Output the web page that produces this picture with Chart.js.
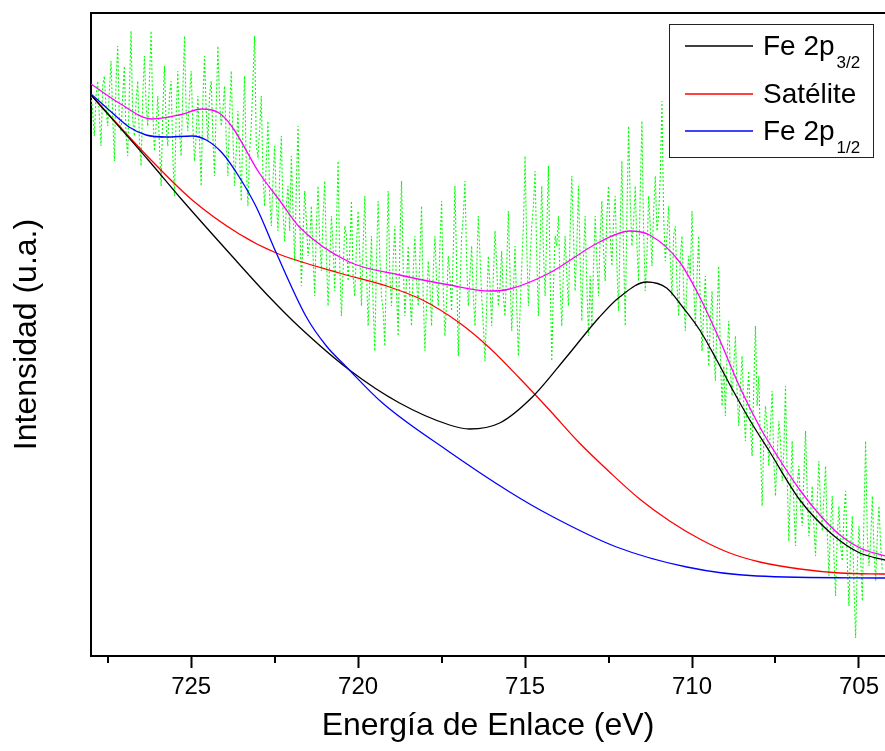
<!DOCTYPE html>
<html>
<head>
<meta charset="utf-8">
<script src="https://cdn.jsdelivr.net/npm/chart.js@4.4.1/dist/chart.umd.min.js"></script>
<style>
  html, body { margin: 0; padding: 0; background: #fff; }
  #wrap { width: 885px; height: 751px; }
</style>
</head>
<body>
<div id="wrap"><canvas id="xps" width="885" height="751"></canvas></div>
<script>
// Fe 2p region: raw counts plus the fitted components (binding energy in eV, intensity in a.u.)
const rawStart = 728.0, rawStep = 0.05;
const rawI = [
  560, 545, 520, 560, 575, 540, 510, 570, 580, 548, 530, 565, 595, 540, 495, 575, 610, 535, 525, 560,
  590, 520, 500, 565, 625, 535, 520, 555, 575, 515, 490, 560, 600, 550, 530, 575, 625, 545, 505, 530,
  560, 510, 470, 545, 590, 530, 510, 560, 575, 500, 460, 540, 585, 525, 500, 565, 620, 545, 525, 560,
  585, 530, 495, 520, 560, 515, 470, 555, 600, 545, 515, 560, 575, 520, 480, 550, 610, 555, 530, 545,
  570, 515, 480, 540, 585, 520, 470, 505, 545, 500, 455, 530, 580, 490, 450, 505, 530, 575, 620, 510,
  500, 525, 560, 480, 450, 495, 535, 460, 430, 475, 510, 455, 425, 480, 520, 445, 415, 450, 470, 425,
  500, 445, 395, 470, 530, 440, 370, 420, 465, 435, 400, 415, 450, 400, 360, 430, 470, 415, 385, 440,
  475, 400, 350, 395, 440, 410, 365, 430, 495, 390, 340, 385, 430, 420, 375, 405, 455, 380, 360, 410,
  445, 400, 350, 410, 460, 385, 330, 375, 420, 350, 305, 395, 455, 400, 360, 345, 310, 395, 465, 380,
  350, 395, 430, 365, 320, 410, 475, 390, 340, 375, 410, 360, 330, 385, 420, 375, 350, 400, 450, 360,
  305, 350, 395, 370, 330, 385, 420, 375, 350, 410, 455, 365, 320, 355, 400, 380, 345, 405, 470, 390,
  300, 365, 420, 440, 475, 395, 350, 380, 410, 360, 330, 385, 440, 400, 360, 330, 295, 350, 400, 370,
  330, 380, 425, 390, 350, 370, 405, 360, 340, 390, 445, 380, 325, 365, 410, 350, 300, 345, 390, 430,
  500, 410, 350, 395, 430, 450, 485, 400, 340, 410, 470, 405, 360, 425, 490, 380, 295, 370, 420, 410,
  440, 370, 330, 385, 420, 380, 350, 425, 480, 420, 365, 410, 470, 395, 335, 400, 440, 370, 320, 380,
  330, 390, 440, 395, 360, 420, 455, 405, 375, 440, 470, 420, 390, 435, 460, 390, 345, 430, 495, 405,
  330, 440, 530, 455, 410, 435, 470, 410, 375, 465, 535, 425, 365, 400, 460, 430, 390, 445, 480, 425,
  440, 480, 555, 440, 395, 420, 450, 395, 360, 420, 430, 370, 340, 400, 420, 365, 325, 375, 400, 380,
  445, 370, 330, 380, 420, 350, 305, 345, 380, 330, 290, 335, 365, 305, 275, 340, 390, 300, 250, 290,
  240, 300, 335, 285, 260, 290, 320, 265, 230, 270, 300, 250, 215, 260, 285, 230, 200, 270, 330, 250,
  280, 210, 150, 215, 250, 230, 190, 230, 265, 195, 160, 200, 235, 215, 175, 205, 270, 180, 115, 170,
  215, 150, 110, 170, 190, 150, 130, 180, 225, 165, 120, 140, 170, 130, 100, 155, 195, 150, 125, 160,
  190, 125, 80, 130, 160, 100, 60, 120, 150, 110, 95, 140, 165, 95, 50, 110, 140, 70, 18, 90,
  130, 100, 55, 140, 215, 120, 90, 115, 160, 105, 75, 120, 150, 110, 85
];
const rawE = rawI.map((_, i) => +(rawStart - rawStep * i).toFixed(2));

const fe32E = [728.00, 726.26, 725.27, 723.86, 722.66, 721.76, 720.26, 718.76, 717.26, 716.66, 715.76, 714.78, 713.76, 712.77, 712.17, 711.36, 710.76, 710.28, 709.77, 709.26, 708.78, 708.27, 707.67, 706.77, 705.78, 704.97, 704.22];
const fe32I = [561, 495, 456, 403, 359, 329, 286, 253, 231, 227, 233, 259, 299, 339, 359, 374, 368, 349, 326, 296, 266, 236, 204, 156, 121, 103, 96];

const satE = [728.00, 726.26, 724.97, 723.56, 722.45, 720.56, 719.06, 718.07, 716.96, 716.06, 715.17, 714.27, 713.37, 712.47, 711.57, 710.67, 709.77, 708.87, 707.97, 706.77, 705.57, 704.22];
const satI = [561, 498, 456, 422, 403, 383, 369, 356, 333, 308, 278, 246, 213, 184, 157, 135, 117, 103, 94, 87, 83, 82];

const fe12E = [728.00, 727.46, 726.86, 726.35, 725.75, 724.97, 724.55, 724.07, 723.56, 723.05, 722.45, 721.55, 720.95, 720.35, 719.27, 717.35, 715.46, 714.27, 712.26, 710.16, 708.06, 704.22];
const fe12I = [562, 546, 529, 521, 519, 520, 516, 503, 479, 449, 403, 339, 310, 289, 253, 206, 164, 141, 109, 89, 80, 78];

const envE = [728.00, 727.16, 726.17, 725.36, 724.67, 724.16, 723.77, 722.96, 722.36, 721.76, 720.26, 718.76, 717.26, 716.06, 715.46, 714.27, 712.77, 711.87, 711.27, 710.37, 709.77, 709.17, 708.57, 707.97, 707.37, 706.77, 706.17, 705.57, 704.97, 704.22];
const envI = [572, 553, 537, 541, 547, 543, 529, 483, 456, 429, 394, 381, 371, 365, 367, 383, 414, 425, 421, 394, 359, 316, 269, 229, 196, 166, 141, 121, 108, 100];

const legendMain = ['Fe 2p', 'Satélite', 'Fe 2p'];
const legendSub = ['3/2', '', '1/2'];
const minorTicks = [727.5, 722.5, 717.5, 712.5, 707.5];

const pts = (xs, ys) => xs.map((x, i) => ({x, y: ys[i]}));
const FONT = '"Liberation Sans", Arial, sans-serif';

function curve(label, xs, ys, color, order) {
  return {
    label, data: pts(xs, ys), borderColor: color, borderWidth: 1.3,
    pointRadius: 0, cubicInterpolationMode: 'monotone', fill: false, order
  };
}

// top frame line, minor x ticks and the legend with subscripts
const extras = {
  id: 'extras',
  afterDraw(chart) {
    const {ctx, chartArea: a, scales: {x}} = chart;
    ctx.save();
    ctx.strokeStyle = '#000';
    ctx.lineWidth = 2;
    ctx.beginPath();
    ctx.moveTo(a.left - 1, a.top);
    ctx.lineTo(a.right, a.top);
    minorTicks.forEach(v => {
      const px = Math.round(x.getPixelForValue(v));
      ctx.moveTo(px, a.bottom);
      ctx.lineTo(px, a.bottom + 7);
    });
    ctx.stroke();

    const box = {left: a.right - 216, top: a.top + 11, width: 204, height: 133};
    ctx.lineWidth = 1;
    ctx.strokeStyle = '#222';
    ctx.strokeRect(box.left + 0.5, box.top + 0.5, box.width, box.height);
    const baselines = [31, 79, 116];
    chart.data.datasets.slice(0, 3).forEach((ds, i) => {
      const by = box.top + baselines[i];
      ctx.strokeStyle = ds.borderColor;
      ctx.lineWidth = 1.3;
      ctx.beginPath();
      ctx.moveTo(box.left + 16, by - 9);
      ctx.lineTo(box.left + 84, by - 9);
      ctx.stroke();
      ctx.fillStyle = '#000';
      ctx.textBaseline = 'alphabetic';
      ctx.font = '28px ' + FONT;
      ctx.fillText(legendMain[i], box.left + 94, by);
      if (legendSub[i]) {
        const w = ctx.measureText(legendMain[i]).width;
        ctx.font = '17px ' + FONT;
        ctx.fillText(legendSub[i], box.left + 96 + w, by + 13);
      }
    });
    ctx.restore();
  }
};

new Chart(document.getElementById('xps'), {
  type: 'line',
  data: {
    datasets: [
      curve('Fe 2p3/2', fe32E, fe32I, '#000000', 2),
      curve('Satélite', satE, satI, '#ff0000', 3),
      curve('Fe 2p1/2', fe12E, fe12I, '#0000ff', 1),
      curve('Envolvente', envE, envI, '#ff00ff', 0),
      {
        label: 'Datos', data: pts(rawE, rawI), borderColor: '#00ff00', borderWidth: 1.1,
        borderDash: [2, 2], pointRadius: 0, tension: 0, fill: false, order: 5
      }
    ]
  },
  options: {
    responsive: false,
    animation: false,
    layout: {padding: {top: 13, right: 0, bottom: 0, left: 0}},
    plugins: {legend: {display: false}, tooltip: {enabled: false}},
    scales: {
      x: {
        type: 'linear', reverse: true, min: 704.22, max: 728, offset: false,
        afterFit: s => { s.height = 95; },
        border: {color: '#000', width: 2},
        grid: {drawOnChartArea: false, drawTicks: true, tickLength: 12, tickWidth: 2, tickColor: '#000'},
        ticks: {stepSize: 5, includeBounds: false, color: '#000', padding: 5, maxRotation: 0,
                font: {family: FONT, size: 24}},
        title: {display: true, text: 'Energía de Enlace (eV)', color: '#000',
                font: {family: FONT, size: 32}, padding: {top: 0, bottom: 6}}
      },
      y: {
        min: 0, max: 643,
        afterFit: s => { s.width = 91; },
        border: {color: '#000', width: 2},
        grid: {display: false},
        ticks: {display: false},
        title: {display: true, text: 'Intensidad (u.a.)', color: '#000',
                font: {family: FONT, size: 32}, padding: {top: 8, bottom: 0}}
      }
    }
  },
  plugins: [extras]
});
</script>
</body>
</html>
